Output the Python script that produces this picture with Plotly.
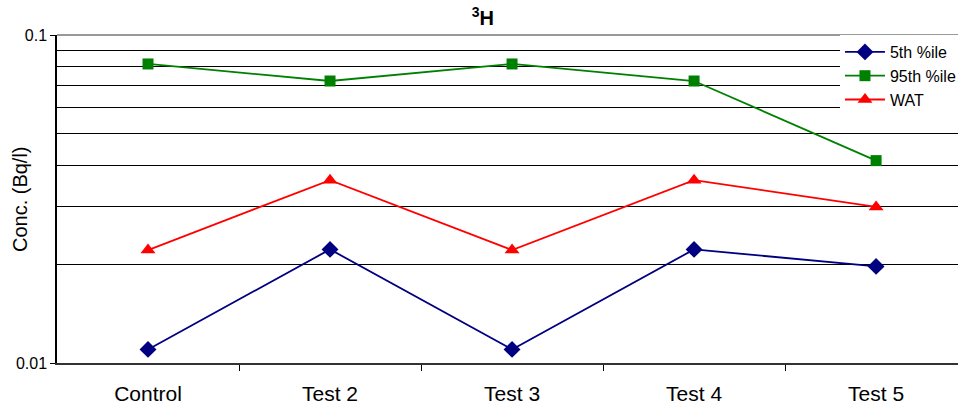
import plotly.graph_objects as go

categories = ["Control", "Test 2", "Test 3", "Test 4", "Test 5"]
p5 = [0.0110, 0.0222, 0.0110, 0.0222, 0.0197]
p95 = [0.0816, 0.0724, 0.0816, 0.0724, 0.0414]
wat = [0.0221, 0.0361, 0.0221, 0.0361, 0.0299]
y_ticks = [0.01, 0.1]
y_ticktext = ["0.01", "0.1"]
minor_grid = [0.02, 0.03, 0.04, 0.05, 0.06, 0.07, 0.08, 0.09]

xs = list(range(len(categories)))
font = "Liberation Sans, Arial, sans-serif"

fig = go.Figure()
fig.add_trace(go.Scatter(x=xs, y=p5, name="5th %ile", mode="lines+markers",
                         line=dict(color="#000080", width=1.8),
                         marker=dict(symbol="diamond", size=13, color="#000080")))
fig.add_trace(go.Scatter(x=xs, y=p95, name="95th %ile", mode="lines+markers",
                         line=dict(color="#008000", width=1.8),
                         marker=dict(symbol="square", size=11, color="#008000")))
fig.add_trace(go.Scatter(x=xs, y=wat, name="WAT", mode="lines+markers",
                         line=dict(color="#FF0000", width=1.8),
                         marker=dict(symbol="triangle-up", size=13, color="#FF0000")))

fig.update_layout(
    width=958, height=405,
    margin=dict(l=57, r=0, t=35, b=42, autoexpand=False),
    paper_bgcolor="white", plot_bgcolor="white",
    font=dict(family=font, color="black", size=15),
    title=dict(text="<b><sup>3</sup>H</b>", x=0.504, xref="container", xanchor="center",
               y=0.955, yref="container", yanchor="middle", font=dict(size=20)),
    showlegend=True,
    legend=dict(x=0.869, y=1.0, xref="paper", yref="paper", xanchor="left", yanchor="top",
                bgcolor="white", borderwidth=0, font=dict(size=16),
                tracegroupgap=0, itemwidth=40),
    xaxis=dict(range=[-0.5, 4.45], tickvals=xs, ticktext=categories, ticks="",
               automargin=False,
               showgrid=False, zeroline=False, showline=True, linecolor="#333333", linewidth=2,
               tickfont=dict(size=21), ticklabelstandoff=11,
               minor=dict(tickvals=[0.5, 1.5, 2.5, 3.5], ticks="outside", ticklen=6,
                          tickcolor="black", tickwidth=1, showgrid=False)),
    yaxis=dict(type="log", range=[-2, -1], tickvals=y_ticks, ticktext=y_ticktext,
               automargin=False,
               ticks="outside", ticklen=5, tickcolor="black", showgrid=False, zeroline=False,
               showline=True, linecolor="black", linewidth=1.5,
               tickfont=dict(size=16),
               minor=dict(tickvals=minor_grid, showgrid=True, gridcolor="black",
                          gridwidth=1, ticks="")),
    shapes=[dict(type="line", xref="paper", yref="paper", x0=0, x1=1, y0=1, y1=1,
                 line=dict(color="#999999", width=2), layer="above")],
    annotations=[dict(text="Conc. (Bq/l)", textangle=-90, xref="paper", yref="paper",
                      x=-0.041, y=0.5, xanchor="center", yanchor="middle",
                      showarrow=False, font=dict(size=20))],
)

fig.write_html("out.html")
